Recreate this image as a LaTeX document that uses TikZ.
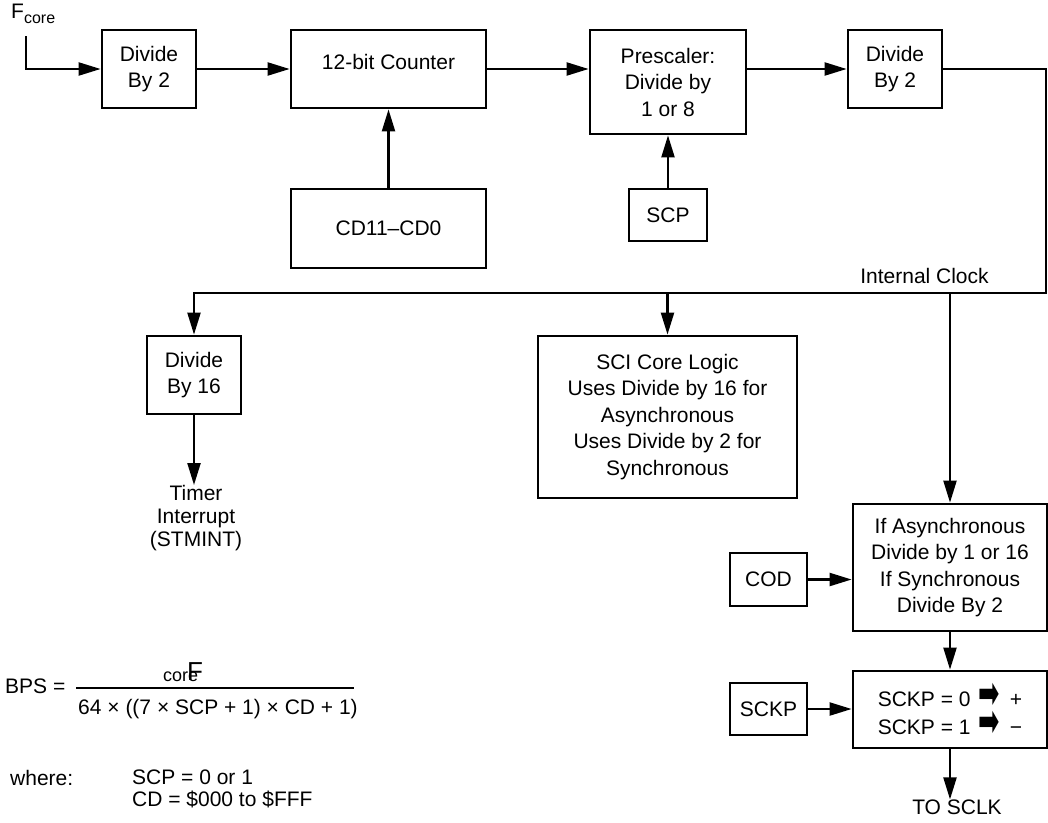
\documentclass[tikz,border=0pt]{standalone}
\usepackage{fontspec}
\usepackage{graphicx}
\setmainfont{Liberation Sans}
\newfontfamily\dejavu{DejaVu Sans}
\usetikzlibrary{arrows.meta}
\newcommand{\heavyarr}{\hspace{8pt}\raisebox{-2pt}{\dejavu\fontsize{30}{30}\selectfont\scalebox{0.85}[1.5]{➡}}\hspace{10pt}}
\begin{document}
\begin{tikzpicture}[x=1pt,y=-1pt,
  box/.style={draw,line width=2.8pt,inner sep=0pt,align=center,font=\fontsize{21}{26.5}\selectfont},
  txt/.style={inner sep=0pt,align=center,font=\fontsize{21}{26.5}\selectfont},
  arr/.style={line width=2.2pt,-{Triangle[length=22pt,width=13pt]}}]
\useasboundingbox (0,0) rectangle (1048,822);
% top row
\node[txt,anchor=base west] (fc) at (11,18) {F\raisebox{-5pt}{\fontsize{16}{16}\selectfont core}};
\node[box,minimum width=94pt,minimum height=78pt] (d2a) at (149,69) {Divide\\By 2};
\node[box,minimum width=195pt,minimum height=78pt] (cnt) at (388.5,69) {};
\node[txt] (cntt) at (388.5,62) {12-bit Counter};
\node[box,minimum width=195pt,minimum height=79pt] (cd) at (388.5,228.5) {CD11–CD0};
\node[box,minimum width=156pt,minimum height=104pt] (pre) at (668,82) {Prescaler:\\Divide by\\1 or 8};
\node[box,minimum width=78pt,minimum height=52pt] (scp) at (668,215) {SCP};
\node[box,minimum width=94pt,minimum height=78pt] (d2b) at (895,69) {Divide\\By 2};
\coordinate (fin) at (26,36);
\coordinate (rb) at (1046,293);
\node[txt,anchor=base] (ic) at (924.5,283) {Internal Clock};
% middle
\node[box,minimum width=94pt,minimum height=78pt] (d16) at (194,375) {Divide\\By 16};
\node[txt,font=\fontsize{21}{23}\selectfont] (timer) at (196,518) {Timer\\Interrupt\\(STMINT)};
\node[box,minimum width=259pt,minimum height=162pt] (sci) at (667.5,417) {SCI Core Logic\\Uses Divide by 16 for\\Asynchronous\\Uses Divide by 2 for\\Synchronous};
% right column
\node[box,minimum width=194pt,minimum height=127pt] (async) at (950,567.5) {If Asynchronous\\Divide by 1 or 16\\If Synchronous\\Divide By 2};
\node[box,minimum width=77pt,minimum height=53pt] (cod) at (768.5,579.5) {COD};
\node[box,minimum width=194pt,minimum height=77pt,font=\fontsize{21}{28}\selectfont] (pol) at (950,709.5) {SCKP = 0\heavyarr+\\SCKP = 1\heavyarr−};
\node[box,minimum width=77pt,minimum height=52pt] (sckp) at (768.5,709) {SCKP};
\node[txt,anchor=north] (sclk) at (957,800) {TO SCLK};
% connectors
\draw[arr] (fin) |- (d2a.west);
\draw[arr] (d2a.east) -- (cnt.west);
\draw[arr] (cd.north) -- (cnt.south);
\draw[arr] (cnt.east) -- (cnt.east -| pre.west);
\draw[arr] (scp.north) -- (pre.south);
\draw[arr] (d2b.west -| pre.east) -- (d2b.west);
\draw[arr] (d2b.east) -| (rb) -| (d16.north);
\draw[arr] (sci.north |- rb) -- (sci.north);
\draw[arr] (async.north |- rb) -- (async.north);
\draw[arr] (d16.south) -- (d16.south |- timer.north);
\draw[arr] (cod.east) -- (cod.east -| async.west);
\draw[arr] (async.south) -- (pol.north);
\draw[arr] (sckp.east) -- (sckp.east -| pol.west);
\draw[arr] (pol.south) -- ++(0,50);
% formula
\node[txt,anchor=west] (bps) at (5,686) {BPS =};
\draw[line width=1.3pt] (76,688) -- (354,688);
\node[inner sep=0pt,anchor=base west,font=\fontsize{18}{18}\selectfont] (core) at (163,681) {core};
\node[inner sep=0pt,anchor=base west,font=\fontsize{26}{26}\selectfont] (ff) at (187,680) {F};
\node[txt,anchor=center] (den) at (218,709) {64 × ((7 × SCP + 1) × CD + 1)};
\node[txt,anchor=west] (wh) at (10,778) {where:};
\node[txt,anchor=west,align=left,font=\fontsize{21}{22}\selectfont] (vals) at (132,789) {SCP = 0 or 1\\CD = \$000 to \$FFF};
\end{tikzpicture}
\end{document}
